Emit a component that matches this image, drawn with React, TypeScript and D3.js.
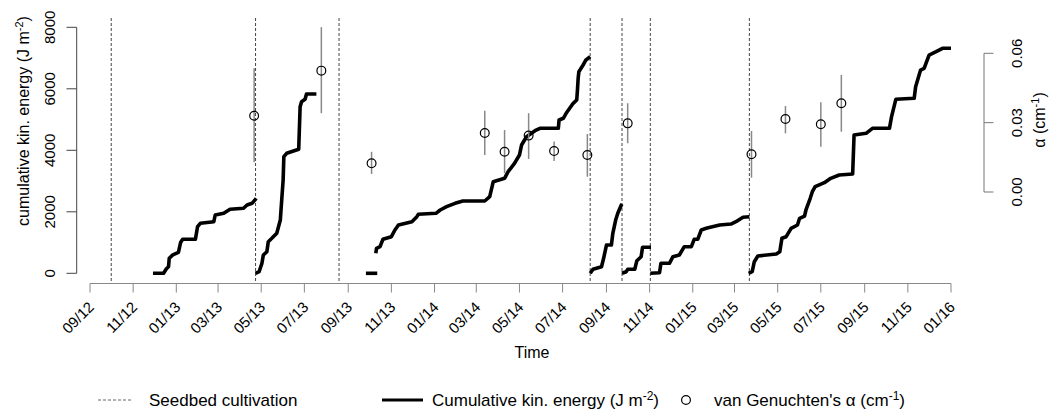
import React from "react";
import * as d3 from "d3";

// ---------- data ----------
const seedbedDates = ["2012-10-01", "2013-04-23", "2013-08-19", "2014-08-09", "2014-09-23", "2014-11-02", "2015-03-22"];

const energy2013a: [string, number][] = [
  ["2012-11-29", 0], ["2012-12-14", 0], ["2012-12-18", 150], ["2012-12-21", 215], ["2012-12-22", 488],
  ["2012-12-27", 600], ["2013-01-04", 680], ["2013-01-07", 1000], ["2013-01-10", 1106], ["2013-01-28", 1106],
  ["2013-01-31", 1515], ["2013-02-04", 1626], ["2013-02-23", 1678], ["2013-02-25", 1896], ["2013-03-09", 1951],
  ["2013-03-18", 2081], ["2013-04-06", 2114], ["2013-04-11", 2221], ["2013-04-18", 2276], ["2013-04-24", 2439],
];
const energy2013b: [string, number][] = [
  ["2013-04-23", 0], ["2013-04-28", 52], ["2013-05-02", 325], ["2013-05-04", 595], ["2013-05-09", 702],
  ["2013-05-11", 1028], ["2013-05-16", 1138], ["2013-05-23", 1301], ["2013-05-28", 1733], ["2013-05-30", 2384],
  ["2013-06-01", 3034], ["2013-06-02", 3792], ["2013-06-06", 3902], ["2013-06-23", 4033], ["2013-06-25", 5418],
  ["2013-06-27", 5580], ["2013-07-02", 5658], ["2013-07-04", 5831], ["2013-07-18", 5831],
];
const energy2013zero: [string, number][] = [["2013-09-26", 0], ["2013-10-12", 0]];
const energy2014a: [string, number][] = [
  ["2013-10-10", 650], ["2013-10-11", 813], ["2013-10-16", 865], ["2013-10-20", 1106], ["2013-11-01", 1190],
  ["2013-11-06", 1408], ["2013-11-11", 1571], ["2013-11-30", 1678], ["2013-12-07", 1841], ["2013-12-09", 1919],
  ["2014-01-03", 1951], ["2014-01-09", 2059], ["2014-01-18", 2166], ["2014-01-30", 2276], ["2014-02-10", 2351],
  ["2014-03-13", 2351], ["2014-03-20", 2491], ["2014-03-25", 2979], ["2014-04-10", 3089], ["2014-04-15", 3304],
  ["2014-04-24", 3577], ["2014-05-01", 3847], ["2014-05-04", 4172], ["2014-05-11", 4442], ["2014-05-23", 4637],
  ["2014-05-30", 4715], ["2014-06-25", 4715], ["2014-06-26", 4985], ["2014-07-02", 5041], ["2014-07-06", 5203],
  ["2014-07-11", 5366], ["2014-07-16", 5528], ["2014-07-21", 5636], ["2014-07-22", 5961], ["2014-07-23", 6341],
  ["2014-07-24", 6556], ["2014-07-30", 6774], ["2014-08-03", 6937], ["2014-08-09", 7046],
];
const energy2014b: [string, number][] = [
  ["2014-08-09", 0], ["2014-08-13", 130], ["2014-08-25", 215], ["2014-08-28", 488], ["2014-09-01", 920],
  ["2014-09-08", 920], ["2014-09-10", 1301], ["2014-09-14", 1733], ["2014-09-17", 1951], ["2014-09-22", 2221],
  ["2014-09-23", 2254],
];
const energy2014c: [string, number][] = [
  ["2014-09-23", 0], ["2014-09-29", 52], ["2014-10-01", 130], ["2014-10-11", 130], ["2014-10-14", 410],
  ["2014-10-20", 540], ["2014-10-22", 845], ["2014-11-03", 845],
];
const energy2015a: [string, number][] = [
  ["2014-11-02", 0], ["2014-11-15", 20], ["2014-11-17", 325], ["2014-11-29", 325], ["2014-12-04", 540],
  ["2014-12-13", 595], ["2014-12-20", 865], ["2014-12-30", 865], ["2015-01-03", 1106], ["2015-01-08", 1106],
  ["2015-01-13", 1408], ["2015-01-20", 1463], ["2015-02-08", 1571], ["2015-02-24", 1603], ["2015-03-03", 1678],
  ["2015-03-13", 1821], ["2015-03-22", 1841],
];
const energy2015b: [string, number][] = [
  ["2015-03-21", 0], ["2015-03-26", 52], ["2015-03-29", 377], ["2015-04-03", 563], ["2015-04-29", 628],
  ["2015-05-04", 702], ["2015-05-07", 1138], ["2015-05-13", 1190], ["2015-05-20", 1463], ["2015-05-29", 1571],
  ["2015-06-01", 1789], ["2015-06-08", 1863], ["2015-06-10", 2059], ["2015-06-16", 2439], ["2015-06-19", 2654],
  ["2015-06-23", 2816], ["2015-07-06", 2946], ["2015-07-15", 3089], ["2015-07-27", 3197], ["2015-08-15", 3229],
  ["2015-08-17", 4498], ["2015-09-03", 4553], ["2015-09-12", 4715], ["2015-10-06", 4715], ["2015-10-09", 5093],
  ["2015-10-15", 5658], ["2015-11-10", 5691], ["2015-11-12", 6068], ["2015-11-19", 6611], ["2015-11-24", 6667],
  ["2015-12-01", 7099], ["2015-12-11", 7207], ["2015-12-20", 7317], ["2016-01-01", 7317],
];
const energySegments = [energy2013a, energy2013b, energy2013zero, energy2014a, energy2014b, energy2014c, energy2015a, energy2015b];

const alphaDates = ["2013-04-21", "2013-07-25", "2013-10-04", "2014-03-13", "2014-04-10", "2014-05-14", "2014-06-19",
  "2014-08-05", "2014-10-01", "2015-03-25", "2015-05-12", "2015-07-01", "2015-07-30"];
const alphaValues = [0.033, 0.0525, 0.0124, 0.0255, 0.0174, 0.0244, 0.0177, 0.016, 0.0297, 0.0163, 0.0316, 0.0293, 0.0384];
const alphaLower = [0.0129, 0.0341, 0.0078, 0.016, 0.0081, 0.0143, 0.0134, 0.0066, 0.0211, 0.0062, 0.0254, 0.0196, 0.0261];
const alphaUpper = [0.0535, 0.0713, 0.0174, 0.0352, 0.0268, 0.0341, 0.0218, 0.0251, 0.0384, 0.0264, 0.0372, 0.0388, 0.0506];

const energyTicks = [0, 2000, 4000, 6000, 8000];
const alphaTicks = [0, 0.03, 0.06];

// ---------- chart ----------
const W = 1053, H = 417;
const FONT = "'Liberation Sans', Arial, Helvetica, sans-serif";
const parse = d3.utcParse("%Y-%m-%d");
const fmt = d3.utcFormat("%m/%y");

export default function App() {
  const x = d3.scaleUtc().domain([parse("2012-09-01")!, parse("2016-01-01")!]).range([90, 951]);
  const yE = d3.scaleLinear().domain([0, 8000]).range([273.3, 27.3]);
  const yA = d3.scaleLinear().domain([0, 0.06]).range([192, 53.3]);
  const xTicks = d3.utcMonth.range(parse("2012-09-01")!, parse("2016-01-02")!, 2);
  const line = d3.line<[string, number]>().x(d => x(parse(d[0])!)).y(d => yE(d[1]));
  const axisY = 283.5;

  return (
    <svg width={W} height={H} style={{ position: "absolute", left: 0, top: 0, background: "#fff" }} fontFamily={FONT}>
      <rect width={W} height={H} fill="#fff" />
      {/* seedbed cultivation lines */}
      {seedbedDates.map(d => (
        <line key={d} x1={x(parse(d)!)} x2={x(parse(d)!)} y1={18} y2={axisY} stroke="#444" strokeWidth={1} strokeDasharray="3,2" />
      ))}
      {/* energy */}
      {energySegments.map((seg, i) => (
        <path key={i} d={line(seg)!} fill="none" stroke="#000" strokeWidth={3.6} strokeLinejoin="round" />
      ))}
      {/* alpha error bars and points */}
      {alphaDates.map((d, i) => (
        <g key={d}>
          <line x1={x(parse(d)!)} x2={x(parse(d)!)} y1={yA(alphaLower[i])} y2={yA(alphaUpper[i])} stroke="#888" strokeWidth={1.5} />
          <circle cx={x(parse(d)!)} cy={yA(alphaValues[i])} r={4.4} fill="none" stroke="#000" strokeWidth={1.2} />
        </g>
      ))}
      {/* bottom axis */}
      <line x1={x(xTicks[0])} x2={x(xTicks[xTicks.length - 1])} y1={axisY} y2={axisY} stroke="#888" />
      {xTicks.map(t => (
        <g key={+t}>
          <line x1={x(t)} x2={x(t)} y1={axisY} y2={axisY + 9} stroke="#888" />
          <text transform={`translate(${x(t) + 5},${308}) rotate(-45)`} textAnchor="end" fontSize={15} fill="#000">{fmt(t)}</text>
        </g>
      ))}
      <text x={532} y={358} textAnchor="middle" fontSize={16}>Time</text>
      {/* left axis */}
      <line x1={76.7} x2={76.7} y1={yE(8000)} y2={yE(0)} stroke="#444" />
      {energyTicks.map(t => (
        <g key={t}>
          <line x1={66.5} x2={76.7} y1={yE(t)} y2={yE(t)} stroke="#444" />
          <text transform={`translate(54.5,${yE(t)}) rotate(-90)`} textAnchor="middle" fontSize={15}>{t}</text>
        </g>
      ))}
      <text transform="translate(29,121) rotate(-90)" textAnchor="middle" fontSize={16}>
        cumulative kin. energy (J m<tspan dy={-6} fontSize={11}>-2</tspan><tspan dy={6}>)</tspan>
      </text>
      {/* right axis */}
      <line x1={984} x2={984} y1={yA(0.06)} y2={yA(0)} stroke="#777" />
      {alphaTicks.map(t => (
        <g key={t}>
          <line x1={984} x2={993.5} y1={yA(t)} y2={yA(t)} stroke="#777" />
          <text transform={`translate(1021.5,${yA(t)}) rotate(-90)`} textAnchor="middle" fontSize={15}>{t.toFixed(2)}</text>
        </g>
      ))}
      <text transform="translate(1045,120) rotate(-90)" textAnchor="middle" fontSize={16}>
        α (cm<tspan dy={-6} fontSize={11}>-1</tspan><tspan dy={6}>)</tspan>
      </text>
      {/* legend */}
      <line x1={98} x2={132} y1={400} y2={400} stroke="#666" strokeDasharray="3,2" />
      <text x={149} y={406} fontSize={17}>Seedbed cultivation</text>
      <line x1={382} x2={423} y1={400} y2={400} stroke="#000" strokeWidth={3} />
      <text x={432} y={406} fontSize={17}>
        Cumulative kin. energy (J m<tspan dy={-6} fontSize={12}>-2</tspan><tspan dy={6}>)</tspan>
      </text>
      <circle cx={686} cy={400} r={4.4} fill="none" stroke="#000" strokeWidth={1.2} />
      <text x={714} y={406} fontSize={17}>
        van Genuchten's α (cm<tspan dy={-6} fontSize={12}>-1</tspan><tspan dy={6}>)</tspan>
      </text>
    </svg>
  );
}
